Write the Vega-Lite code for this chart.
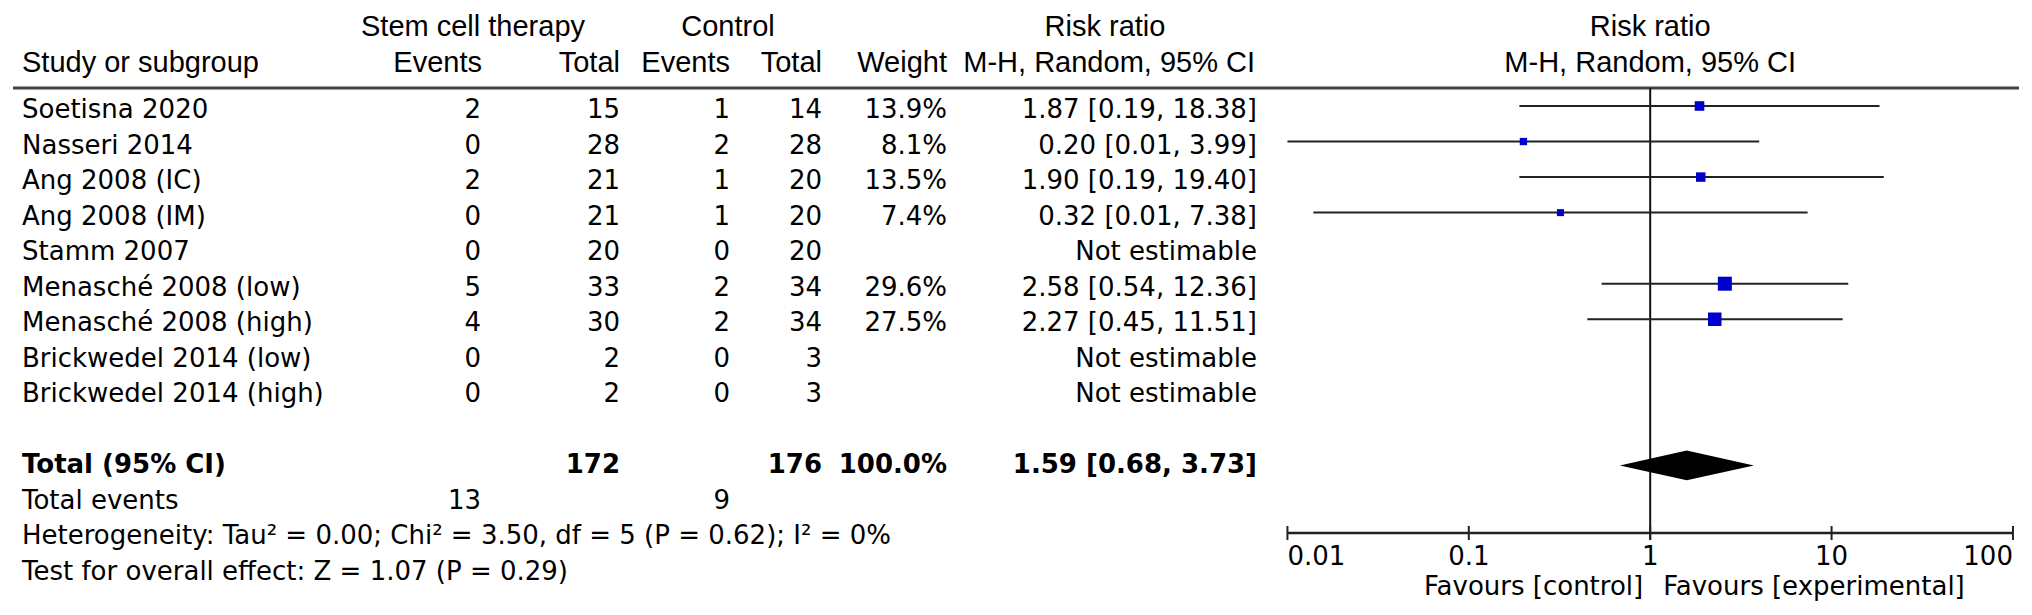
{
  "$schema": "https://vega.github.io/schema/vega-lite/v6.json",
  "width": 2032,
  "height": 615,
  "autosize": {"type": "fit", "contains": "padding"},
  "padding": 0,
  "background": "white",
  "config": {
    "view": {"stroke": null},
    "text": {"font": "DejaVu Sans", "fontSize": 26, "baseline": "middle", "color": "#000"}
  },
  "datasets": {
    "studies": [
      {"label": "Soetisna 2020", "row": 1, "e1": 2, "n1": 15, "e2": 1, "n2": 14, "w": 0.139, "ci": "1.87 [0.19, 18.38]", "rr": 1.87, "lo": 0.19, "hi": 18.38},
      {"label": "Nasseri 2014", "row": 2, "e1": 0, "n1": 28, "e2": 2, "n2": 28, "w": 0.081, "ci": "0.20 [0.01, 3.99]", "rr": 0.2, "lo": 0.01, "hi": 3.99},
      {"label": "Ang 2008 (IC)", "row": 3, "e1": 2, "n1": 21, "e2": 1, "n2": 20, "w": 0.135, "ci": "1.90 [0.19, 19.40]", "rr": 1.9, "lo": 0.19, "hi": 19.4},
      {"label": "Ang 2008 (IM)", "row": 4, "e1": 0, "n1": 21, "e2": 1, "n2": 20, "w": 0.074, "ci": "0.32 [0.01, 7.38]", "rr": 0.32, "lo": 0.0139, "hi": 7.38},
      {"label": "Stamm 2007", "row": 5, "e1": 0, "n1": 20, "e2": 0, "n2": 20, "ci": "Not estimable"},
      {"label": "Menasché 2008 (low)", "row": 6, "e1": 5, "n1": 33, "e2": 2, "n2": 34, "w": 0.296, "ci": "2.58 [0.54, 12.36]", "rr": 2.58, "lo": 0.54, "hi": 12.36},
      {"label": "Menasché 2008 (high)", "row": 7, "e1": 4, "n1": 30, "e2": 2, "n2": 34, "w": 0.275, "ci": "2.27 [0.45, 11.51]", "rr": 2.27, "lo": 0.45, "hi": 11.51},
      {"label": "Brickwedel 2014 (low)", "row": 8, "e1": 0, "n1": 2, "e2": 0, "n2": 3, "ci": "Not estimable"},
      {"label": "Brickwedel 2014 (high)", "row": 9, "e1": 0, "n1": 2, "e2": 0, "n2": 3, "ci": "Not estimable"}
    ],
    "totals": [
      {"label": "Total (95% CI)", "row": 11, "n1": 172, "n2": 176, "w": 1.0, "ci": "1.59 [0.68, 3.73]", "rr": 1.59, "lo": 0.68, "hi": 3.73}
    ],
    "events": [
      {"label": "Total events", "row": 12, "e1": 13, "e2": 9}
    ],
    "notes": [
      {"label": "Heterogeneity: Tau² = 0.00; Chi² = 3.50, df = 5 (P = 0.62); I² = 0%", "row": 13},
      {"label": "Test for overall effect: Z = 1.07 (P = 0.29)", "row": 14}
    ],
    "diamond": [
      {"v": 0.68, "yt": 11, "yb": 11},
      {"v": 1.59, "yt": 10.58, "yb": 11.42},
      {"v": 3.73, "yt": 11, "yb": 11}
    ],
    "ticks": [
      {"v": 0.01, "lab": "0.01"},
      {"v": 0.1, "lab": "0.1"},
      {"v": 1, "lab": "1"},
      {"v": 10, "lab": "10"},
      {"v": 100, "lab": "100"}
    ]
  },
  "resolve": {"scale": {"x": "independent"}},
  "layer": [
    {
      "layer": [
        {"data": {"values": [{}]}, "mark": {"type": "rule", "strokeWidth": 3, "color": "#444"},
         "encoding": {"x": {"datum": 13, "type": "quantitative", "scale": {"domain": [0, 2032], "nice": false, "zero": false}, "axis": null}, "x2": {"datum": 2019},
                      "y": {"datum": 0.381, "type": "quantitative", "scale": {"domain": [-2.0951, 15.2093], "reverse": true, "nice": false, "zero": false}, "axis": null}}},
        {"data": {"values": [{}]}, "mark": {"type": "text", "align": "center", "font": "Liberation Sans", "fontSize": 29},
         "encoding": {"x": {"datum": 473, "type": "quantitative", "scale": {"domain": [0, 2032], "nice": false, "zero": false}, "axis": null}, "y": {"datum": -1.335, "type": "quantitative", "scale": {"domain": [-2.0951, 15.2093], "reverse": true, "nice": false, "zero": false}, "axis": null}, "text": {"value": "Stem cell therapy"}}},
        {"data": {"values": [{}]}, "mark": {"type": "text", "align": "center", "font": "Liberation Sans", "fontSize": 29},
         "encoding": {"x": {"datum": 728, "type": "quantitative", "scale": {"domain": [0, 2032], "nice": false, "zero": false}, "axis": null}, "y": {"datum": -1.335, "type": "quantitative", "scale": {"domain": [-2.0951, 15.2093], "reverse": true, "nice": false, "zero": false}, "axis": null}, "text": {"value": "Control"}}},
        {"data": {"values": [{}]}, "mark": {"type": "text", "align": "center", "font": "Liberation Sans", "fontSize": 29},
         "encoding": {"x": {"datum": 1105, "type": "quantitative", "scale": {"domain": [0, 2032], "nice": false, "zero": false}, "axis": null}, "y": {"datum": -1.335, "type": "quantitative", "scale": {"domain": [-2.0951, 15.2093], "reverse": true, "nice": false, "zero": false}, "axis": null}, "text": {"value": "Risk ratio"}}},
        {"data": {"values": [{}]}, "mark": {"type": "text", "align": "left", "font": "Liberation Sans", "fontSize": 29},
         "encoding": {"x": {"datum": 22, "type": "quantitative", "scale": {"domain": [0, 2032], "nice": false, "zero": false}, "axis": null}, "y": {"datum": -0.3225, "type": "quantitative", "scale": {"domain": [-2.0951, 15.2093], "reverse": true, "nice": false, "zero": false}, "axis": null}, "text": {"value": "Study or subgroup"}}},
        {"data": {"values": [{}]}, "mark": {"type": "text", "align": "right", "font": "Liberation Sans", "fontSize": 29},
         "encoding": {"x": {"datum": 482, "type": "quantitative", "scale": {"domain": [0, 2032], "nice": false, "zero": false}, "axis": null}, "y": {"datum": -0.3225, "type": "quantitative", "scale": {"domain": [-2.0951, 15.2093], "reverse": true, "nice": false, "zero": false}, "axis": null}, "text": {"value": "Events"}}},
        {"data": {"values": [{}]}, "mark": {"type": "text", "align": "right", "font": "Liberation Sans", "fontSize": 29},
         "encoding": {"x": {"datum": 620, "type": "quantitative", "scale": {"domain": [0, 2032], "nice": false, "zero": false}, "axis": null}, "y": {"datum": -0.3225, "type": "quantitative", "scale": {"domain": [-2.0951, 15.2093], "reverse": true, "nice": false, "zero": false}, "axis": null}, "text": {"value": "Total"}}},
        {"data": {"values": [{}]}, "mark": {"type": "text", "align": "right", "font": "Liberation Sans", "fontSize": 29},
         "encoding": {"x": {"datum": 730, "type": "quantitative", "scale": {"domain": [0, 2032], "nice": false, "zero": false}, "axis": null}, "y": {"datum": -0.3225, "type": "quantitative", "scale": {"domain": [-2.0951, 15.2093], "reverse": true, "nice": false, "zero": false}, "axis": null}, "text": {"value": "Events"}}},
        {"data": {"values": [{}]}, "mark": {"type": "text", "align": "right", "font": "Liberation Sans", "fontSize": 29},
         "encoding": {"x": {"datum": 822, "type": "quantitative", "scale": {"domain": [0, 2032], "nice": false, "zero": false}, "axis": null}, "y": {"datum": -0.3225, "type": "quantitative", "scale": {"domain": [-2.0951, 15.2093], "reverse": true, "nice": false, "zero": false}, "axis": null}, "text": {"value": "Total"}}},
        {"data": {"values": [{}]}, "mark": {"type": "text", "align": "right", "font": "Liberation Sans", "fontSize": 29},
         "encoding": {"x": {"datum": 947, "type": "quantitative", "scale": {"domain": [0, 2032], "nice": false, "zero": false}, "axis": null}, "y": {"datum": -0.3225, "type": "quantitative", "scale": {"domain": [-2.0951, 15.2093], "reverse": true, "nice": false, "zero": false}, "axis": null}, "text": {"value": "Weight"}}},
        {"data": {"values": [{}]}, "mark": {"type": "text", "align": "right", "font": "Liberation Sans", "fontSize": 29},
         "encoding": {"x": {"datum": 1255, "type": "quantitative", "scale": {"domain": [0, 2032], "nice": false, "zero": false}, "axis": null}, "y": {"datum": -0.3225, "type": "quantitative", "scale": {"domain": [-2.0951, 15.2093], "reverse": true, "nice": false, "zero": false}, "axis": null}, "text": {"value": "M-H, Random, 95% CI"}}},

        {"data": {"name": "studies"}, "mark": {"type": "text", "align": "left"},
         "encoding": {"x": {"datum": 22, "type": "quantitative", "scale": {"domain": [0, 2032], "nice": false, "zero": false}, "axis": null}, "y": {"field": "row", "type": "quantitative", "scale": {"domain": [-2.0951, 15.2093], "reverse": true, "nice": false, "zero": false}, "axis": null}, "text": {"field": "label", "type": "nominal"}}},
        {"data": {"name": "studies"}, "mark": {"type": "text", "align": "right"},
         "encoding": {"x": {"datum": 481, "type": "quantitative", "scale": {"domain": [0, 2032], "nice": false, "zero": false}, "axis": null}, "y": {"field": "row", "type": "quantitative", "scale": {"domain": [-2.0951, 15.2093], "reverse": true, "nice": false, "zero": false}, "axis": null}, "text": {"field": "e1", "type": "nominal"}}},
        {"data": {"name": "studies"}, "mark": {"type": "text", "align": "right"},
         "encoding": {"x": {"datum": 620, "type": "quantitative", "scale": {"domain": [0, 2032], "nice": false, "zero": false}, "axis": null}, "y": {"field": "row", "type": "quantitative", "scale": {"domain": [-2.0951, 15.2093], "reverse": true, "nice": false, "zero": false}, "axis": null}, "text": {"field": "n1", "type": "nominal"}}},
        {"data": {"name": "studies"}, "mark": {"type": "text", "align": "right"},
         "encoding": {"x": {"datum": 730, "type": "quantitative", "scale": {"domain": [0, 2032], "nice": false, "zero": false}, "axis": null}, "y": {"field": "row", "type": "quantitative", "scale": {"domain": [-2.0951, 15.2093], "reverse": true, "nice": false, "zero": false}, "axis": null}, "text": {"field": "e2", "type": "nominal"}}},
        {"data": {"name": "studies"}, "mark": {"type": "text", "align": "right"},
         "encoding": {"x": {"datum": 822, "type": "quantitative", "scale": {"domain": [0, 2032], "nice": false, "zero": false}, "axis": null}, "y": {"field": "row", "type": "quantitative", "scale": {"domain": [-2.0951, 15.2093], "reverse": true, "nice": false, "zero": false}, "axis": null}, "text": {"field": "n2", "type": "nominal"}}},
        {"data": {"name": "studies"}, "transform": [{"filter": "isValid(datum.w)"}], "mark": {"type": "text", "align": "right"},
         "encoding": {"x": {"datum": 947, "type": "quantitative", "scale": {"domain": [0, 2032], "nice": false, "zero": false}, "axis": null}, "y": {"field": "row", "type": "quantitative", "scale": {"domain": [-2.0951, 15.2093], "reverse": true, "nice": false, "zero": false}, "axis": null}, "text": {"field": "w", "type": "quantitative", "format": ".1%"}}},
        {"data": {"name": "studies"}, "mark": {"type": "text", "align": "right"},
         "encoding": {"x": {"datum": 1257, "type": "quantitative", "scale": {"domain": [0, 2032], "nice": false, "zero": false}, "axis": null}, "y": {"field": "row", "type": "quantitative", "scale": {"domain": [-2.0951, 15.2093], "reverse": true, "nice": false, "zero": false}, "axis": null}, "text": {"field": "ci", "type": "nominal"}}},

        {"data": {"name": "totals"}, "mark": {"type": "text", "align": "left", "fontWeight": "bold"},
         "encoding": {"x": {"datum": 22, "type": "quantitative", "scale": {"domain": [0, 2032], "nice": false, "zero": false}, "axis": null}, "y": {"field": "row", "type": "quantitative", "scale": {"domain": [-2.0951, 15.2093], "reverse": true, "nice": false, "zero": false}, "axis": null}, "text": {"field": "label", "type": "nominal"}}},
        {"data": {"name": "totals"}, "mark": {"type": "text", "align": "right", "fontWeight": "bold"},
         "encoding": {"x": {"datum": 620, "type": "quantitative", "scale": {"domain": [0, 2032], "nice": false, "zero": false}, "axis": null}, "y": {"field": "row", "type": "quantitative", "scale": {"domain": [-2.0951, 15.2093], "reverse": true, "nice": false, "zero": false}, "axis": null}, "text": {"field": "n1", "type": "nominal"}}},
        {"data": {"name": "totals"}, "mark": {"type": "text", "align": "right", "fontWeight": "bold"},
         "encoding": {"x": {"datum": 822, "type": "quantitative", "scale": {"domain": [0, 2032], "nice": false, "zero": false}, "axis": null}, "y": {"field": "row", "type": "quantitative", "scale": {"domain": [-2.0951, 15.2093], "reverse": true, "nice": false, "zero": false}, "axis": null}, "text": {"field": "n2", "type": "nominal"}}},
        {"data": {"name": "totals"}, "mark": {"type": "text", "align": "right", "fontWeight": "bold"},
         "encoding": {"x": {"datum": 947, "type": "quantitative", "scale": {"domain": [0, 2032], "nice": false, "zero": false}, "axis": null}, "y": {"field": "row", "type": "quantitative", "scale": {"domain": [-2.0951, 15.2093], "reverse": true, "nice": false, "zero": false}, "axis": null}, "text": {"field": "w", "type": "quantitative", "format": ".1%"}}},
        {"data": {"name": "totals"}, "mark": {"type": "text", "align": "right", "fontWeight": "bold"},
         "encoding": {"x": {"datum": 1257, "type": "quantitative", "scale": {"domain": [0, 2032], "nice": false, "zero": false}, "axis": null}, "y": {"field": "row", "type": "quantitative", "scale": {"domain": [-2.0951, 15.2093], "reverse": true, "nice": false, "zero": false}, "axis": null}, "text": {"field": "ci", "type": "nominal"}}},

        {"data": {"name": "events"}, "mark": {"type": "text", "align": "left"},
         "encoding": {"x": {"datum": 22, "type": "quantitative", "scale": {"domain": [0, 2032], "nice": false, "zero": false}, "axis": null}, "y": {"field": "row", "type": "quantitative", "scale": {"domain": [-2.0951, 15.2093], "reverse": true, "nice": false, "zero": false}, "axis": null}, "text": {"field": "label", "type": "nominal"}}},
        {"data": {"name": "events"}, "mark": {"type": "text", "align": "right"},
         "encoding": {"x": {"datum": 481, "type": "quantitative", "scale": {"domain": [0, 2032], "nice": false, "zero": false}, "axis": null}, "y": {"field": "row", "type": "quantitative", "scale": {"domain": [-2.0951, 15.2093], "reverse": true, "nice": false, "zero": false}, "axis": null}, "text": {"field": "e1", "type": "nominal"}}},
        {"data": {"name": "events"}, "mark": {"type": "text", "align": "right"},
         "encoding": {"x": {"datum": 730, "type": "quantitative", "scale": {"domain": [0, 2032], "nice": false, "zero": false}, "axis": null}, "y": {"field": "row", "type": "quantitative", "scale": {"domain": [-2.0951, 15.2093], "reverse": true, "nice": false, "zero": false}, "axis": null}, "text": {"field": "e2", "type": "nominal"}}},
        {"data": {"name": "notes"}, "mark": {"type": "text", "align": "left"},
         "encoding": {"x": {"datum": 22, "type": "quantitative", "scale": {"domain": [0, 2032], "nice": false, "zero": false}, "axis": null}, "y": {"field": "row", "type": "quantitative", "scale": {"domain": [-2.0951, 15.2093], "reverse": true, "nice": false, "zero": false}, "axis": null}, "text": {"field": "label", "type": "nominal"}}}
      ]
    },
    {
      "layer": [
        {"data": {"values": [{}]}, "mark": {"type": "text", "align": "center", "font": "Liberation Sans", "fontSize": 29},
         "encoding": {"x": {"datum": 1, "type": "quantitative", "scale": {"type": "log", "domain": [7.98e-10, 127.35], "nice": false}, "axis": null}, "y": {"datum": -1.335, "type": "quantitative", "scale": {"domain": [-2.0951, 15.2093], "reverse": true, "nice": false, "zero": false}, "axis": null}, "text": {"value": "Risk ratio"}}},
        {"data": {"values": [{}]}, "mark": {"type": "text", "align": "center", "font": "Liberation Sans", "fontSize": 29},
         "encoding": {"x": {"datum": 1, "type": "quantitative", "scale": {"type": "log", "domain": [7.98e-10, 127.35], "nice": false}, "axis": null}, "y": {"datum": -0.3225, "type": "quantitative", "scale": {"domain": [-2.0951, 15.2093], "reverse": true, "nice": false, "zero": false}, "axis": null}, "text": {"value": "M-H, Random, 95% CI"}}},
        {"data": {"values": [{}]}, "mark": {"type": "rule", "strokeWidth": 2, "color": "#111"},
         "encoding": {"x": {"datum": 1, "type": "quantitative", "scale": {"type": "log", "domain": [7.98e-10, 127.35], "nice": false}, "axis": null}, "y": {"datum": 0.381, "type": "quantitative", "scale": {"domain": [-2.0951, 15.2093], "reverse": true, "nice": false, "zero": false}, "axis": null}, "y2": {"datum": 13.1}}},
        {"data": {"name": "studies"}, "transform": [{"filter": "isValid(datum.lo)"}], "mark": {"type": "rule", "strokeWidth": 2, "color": "#222", "yOffset": -4},
         "encoding": {"x": {"field": "lo", "type": "quantitative", "scale": {"type": "log", "domain": [7.98e-10, 127.35], "nice": false}, "axis": null}, "x2": {"field": "hi"}, "y": {"field": "row", "type": "quantitative", "scale": {"domain": [-2.0951, 15.2093], "reverse": true, "nice": false, "zero": false}, "axis": null}}},
        {"data": {"name": "studies"}, "transform": [{"filter": "isValid(datum.rr)"}], "mark": {"type": "point", "shape": "square", "filled": true, "opacity": 1, "color": "#0000cc", "strokeWidth": 0, "yOffset": -4},
         "encoding": {"x": {"field": "rr", "type": "quantitative", "scale": {"type": "log", "domain": [7.98e-10, 127.35], "nice": false}, "axis": null}, "y": {"field": "row", "type": "quantitative", "scale": {"domain": [-2.0951, 15.2093], "reverse": true, "nice": false, "zero": false}, "axis": null}, "size": {"field": "w", "type": "quantitative", "scale": {"domain": [0, 0.296], "range": [0, 196]}, "legend": null}}},
        {"data": {"name": "diamond"}, "mark": {"type": "area", "color": "#000", "opacity": 1},
         "encoding": {"x": {"field": "v", "type": "quantitative", "scale": {"type": "log", "domain": [7.98e-10, 127.35], "nice": false}, "axis": null}, "y": {"field": "yt", "type": "quantitative", "scale": {"domain": [-2.0951, 15.2093], "reverse": true, "nice": false, "zero": false}, "axis": null}, "y2": {"field": "yb"}}},
        {"data": {"values": [{}]}, "mark": {"type": "rule", "strokeWidth": 2.5, "color": "#222"},
         "encoding": {"x": {"datum": 0.01, "type": "quantitative", "scale": {"type": "log", "domain": [7.98e-10, 127.35], "nice": false}, "axis": null}, "x2": {"datum": 100}, "y": {"datum": 12.902, "type": "quantitative", "scale": {"domain": [-2.0951, 15.2093], "reverse": true, "nice": false, "zero": false}, "axis": null}}},
        {"data": {"name": "ticks"}, "mark": {"type": "rule", "strokeWidth": 2, "color": "#222"},
         "encoding": {"x": {"field": "v", "type": "quantitative", "scale": {"type": "log", "domain": [7.98e-10, 127.35], "nice": false}, "axis": null}, "y": {"datum": 12.705, "type": "quantitative", "scale": {"domain": [-2.0951, 15.2093], "reverse": true, "nice": false, "zero": false}, "axis": null}, "y2": {"datum": 13.1}}},
        {"data": {"name": "ticks"}, "transform": [{"filter": "datum.v == 0.01"}], "mark": {"type": "text", "align": "left"},
         "encoding": {"x": {"field": "v", "type": "quantitative", "scale": {"type": "log", "domain": [7.98e-10, 127.35], "nice": false}, "axis": null}, "y": {"datum": 13.577, "type": "quantitative", "scale": {"domain": [-2.0951, 15.2093], "reverse": true, "nice": false, "zero": false}, "axis": null}, "text": {"field": "lab", "type": "nominal"}}},
        {"data": {"name": "ticks"}, "transform": [{"filter": "datum.v > 0.01 && datum.v < 100"}], "mark": {"type": "text", "align": "center"},
         "encoding": {"x": {"field": "v", "type": "quantitative", "scale": {"type": "log", "domain": [7.98e-10, 127.35], "nice": false}, "axis": null}, "y": {"datum": 13.577, "type": "quantitative", "scale": {"domain": [-2.0951, 15.2093], "reverse": true, "nice": false, "zero": false}, "axis": null}, "text": {"field": "lab", "type": "nominal"}}},
        {"data": {"name": "ticks"}, "transform": [{"filter": "datum.v == 100"}], "mark": {"type": "text", "align": "right"},
         "encoding": {"x": {"field": "v", "type": "quantitative", "scale": {"type": "log", "domain": [7.98e-10, 127.35], "nice": false}, "axis": null}, "y": {"datum": 13.577, "type": "quantitative", "scale": {"domain": [-2.0951, 15.2093], "reverse": true, "nice": false, "zero": false}, "axis": null}, "text": {"field": "lab", "type": "nominal"}}},
        {"data": {"values": [{}]}, "mark": {"type": "text", "align": "right", "dx": -7},
         "encoding": {"x": {"datum": 1, "type": "quantitative", "scale": {"type": "log", "domain": [7.98e-10, 127.35], "nice": false}, "axis": null}, "y": {"datum": 14.421, "type": "quantitative", "scale": {"domain": [-2.0951, 15.2093], "reverse": true, "nice": false, "zero": false}, "axis": null}, "text": {"value": "Favours [control]"}}},
        {"data": {"values": [{}]}, "mark": {"type": "text", "align": "left", "dx": 13},
         "encoding": {"x": {"datum": 1, "type": "quantitative", "scale": {"type": "log", "domain": [7.98e-10, 127.35], "nice": false}, "axis": null}, "y": {"datum": 14.421, "type": "quantitative", "scale": {"domain": [-2.0951, 15.2093], "reverse": true, "nice": false, "zero": false}, "axis": null}, "text": {"value": "Favours [experimental]"}}}
      ]
    }
  ]
}
